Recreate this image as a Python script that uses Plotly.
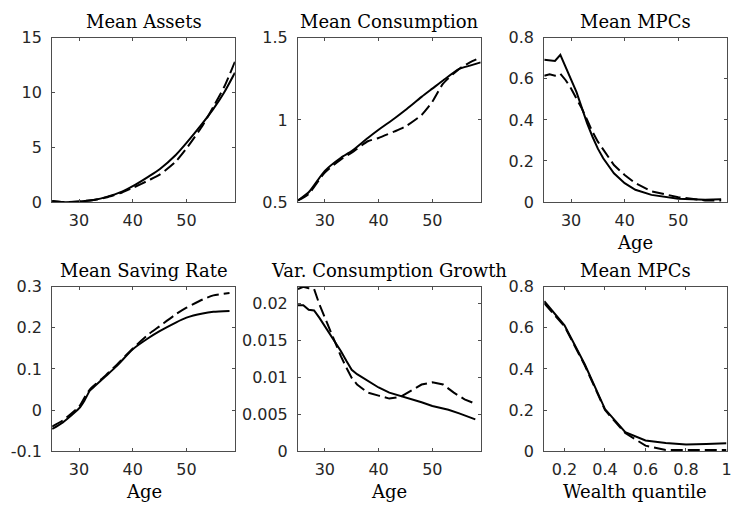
import plotly.graph_objects as go

# ---------------- data ----------------
age_assets = [25, 27, 30, 33, 35, 38, 40, 43, 45, 48, 50, 53, 55, 57, 59]
assets_solid = [0.1, 0.0, 0.05, 0.22, 0.45, 0.95, 1.45, 2.35, 3.0, 4.3, 5.4, 7.2, 8.5, 10.0, 11.8]
assets_dash = [0.1, 0.0, 0.05, 0.22, 0.42, 0.88, 1.3, 2.0, 2.5, 3.7, 4.9, 7.0, 8.7, 10.5, 12.8]

age_cons = [25, 27, 30, 33, 35, 38, 40, 43, 45, 48, 50, 52, 55, 57, 59]
cons_solid = [0.51, 0.56, 0.69, 0.77, 0.81, 0.89, 0.94, 1.01, 1.06, 1.14, 1.19, 1.24, 1.31, 1.33, 1.35]
cons_dash = [0.51, 0.55, 0.68, 0.76, 0.80, 0.87, 0.89, 0.93, 0.96, 1.03, 1.11, 1.22, 1.31, 1.35, 1.38]

age_mpc = [25, 26, 27, 28, 29, 30, 31, 32, 33, 34, 35, 36, 38, 40, 42, 45, 50, 55, 58]
mpc_age_solid = [0.693, 0.69, 0.687, 0.717, 0.657, 0.60, 0.536, 0.46, 0.383, 0.318, 0.26, 0.213,
                 0.14, 0.092, 0.06, 0.035, 0.016, 0.011, 0.014]
mpc_age_dash = [0.615, 0.622, 0.615, 0.625, 0.593, 0.553, 0.504, 0.456, 0.40, 0.342, 0.294, 0.254,
                0.18, 0.132, 0.092, 0.052, 0.024, 0.008, 0.008]

age_save = [25, 27, 30, 31, 32, 33, 35, 37, 40, 43, 45, 48, 50, 53, 55, 58]
save_solid = [-0.046, -0.03, 0.004, 0.023, 0.047, 0.059, 0.083, 0.107, 0.148, 0.176, 0.192,
              0.213, 0.225, 0.235, 0.239, 0.241]
save_dash = [-0.04, -0.025, 0.008, 0.03, 0.05, 0.062, 0.085, 0.11, 0.15, 0.185, 0.204,
             0.233, 0.249, 0.269, 0.279, 0.285]

age_var_solid = [25, 26, 27, 28, 29, 30, 31, 32, 33, 34, 35, 36, 38, 40, 42, 45, 48, 50, 53, 55, 58]
var_solid = [0.0197, 0.0197, 0.0191, 0.019, 0.018, 0.0169, 0.0157, 0.0146, 0.0135, 0.0122, 0.011,
             0.0104, 0.0095, 0.0086, 0.0079, 0.0073, 0.0066, 0.0061, 0.0056, 0.0051, 0.0043]
age_var_dash = [25, 26, 27, 28, 29, 30, 31, 32, 33, 34, 35, 36, 38, 40, 42, 44, 46, 48, 50, 52, 54, 56, 58]
var_dash = [0.0219, 0.0222, 0.022, 0.0219, 0.0198, 0.018, 0.0164, 0.0146, 0.0128, 0.0113, 0.0099,
            0.009, 0.0079, 0.0075, 0.0071, 0.0073, 0.0081, 0.009, 0.0093, 0.009, 0.0079, 0.007, 0.0064]

wealth_q = [0.1, 0.2, 0.3, 0.4, 0.5, 0.6, 0.7, 0.8, 0.9, 1.0]
mpc_w_solid = [0.73, 0.612, 0.423, 0.205, 0.092, 0.052, 0.04, 0.032, 0.035, 0.039]
mpc_w_dash = [0.72, 0.608, 0.418, 0.2, 0.088, 0.027, 0.006, 0.005, 0.005, 0.006]

titles = ["Mean Assets", "Mean Consumption", "Mean MPCs",
          "Mean Saving Rate", "Var. Consumption Growth", "Mean MPCs"]

age_ticks = [30, 40, 50]
age_ticktext = ["30", "40", "50"]
q_ticks = [0.2, 0.4, 0.6, 0.8, 1.0]
q_ticktext = ["0.2", "0.4", "0.6", "0.8", "1"]

y_ticks = [
    ([0, 5, 10, 15], ["0", "5", "10", "15"]),
    ([0.5, 1, 1.5], ["0.5", "1", "1.5"]),
    ([0, 0.2, 0.4, 0.6, 0.8], ["0", "0.2", "0.4", "0.6", "0.8"]),
    ([-0.1, 0, 0.1, 0.2, 0.3], ["-0.1", "0", "0.1", "0.2", "0.3"]),
    ([0, 0.005, 0.01, 0.015, 0.02], ["0", "0.005", "0.01", "0.015", "0.02"]),
    ([0, 0.2, 0.4, 0.6, 0.8], ["0", "0.2", "0.4", "0.6", "0.8"]),
]
y_ranges = [[0, 15], [0.5, 1.5], [0, 0.8], [-0.1, 0.3], [0, 0.0222], [0, 0.8]]
x_ranges = [[25, 59]] * 5 + [[0.1, 1.0001]]
smooth = [True, True, False, True, False, False]

panels = [
    (age_assets, assets_solid, age_assets, assets_dash),
    (age_cons, cons_solid, age_cons, cons_dash),
    (age_mpc, mpc_age_solid, age_mpc, mpc_age_dash),
    (age_save, save_solid, age_save, save_dash),
    (age_var_solid, var_solid, age_var_dash, var_dash),
    (wealth_q, mpc_w_solid, wealth_q, mpc_w_dash),
]
xlabels = {2: "Age", 3: "Age", 4: "Age", 5: "Wealth quantile"}

# ---------------- layout geometry ----------------
W, H = 732, 506
# target on-screen pixel positions; compensated for the viewer's vertical offset/scale
Y_OFF, Y_SC = 8.2, 0.966
col_px = [(52.5, 236.5), (300, 484), (548, 731.5)]
row_px = [(37, 202), (287, 452)]


def fy(y):
    return 1 - ((y - Y_OFF) / Y_SC) / H


fig = go.Figure()
layout = dict(width=W, height=H, margin=dict(l=0, r=0, t=0, b=0),
              paper_bgcolor="white", plot_bgcolor="white", showlegend=False)
annotations = []

tick_font = dict(family="DejaVu Sans", size=16, color="#262626")
label_font = dict(family="DejaVu Serif", size=18, color="#000000")
axis_col = "#4d4d4d"

for i, (xs, ys, xd, yd) in enumerate(panels):
    r, c = divmod(i, 3)
    n = "" if i == 0 else str(i + 1)
    xdom = [col_px[c][0] / W, col_px[c][1] / W]
    ydom = [fy(row_px[r][1]), fy(row_px[r][0])]
    xa, ya = "x" + n, "y" + n
    shape = "spline" if smooth[i] else "linear"
    fig.add_trace(go.Scatter(x=xs, y=ys, mode="lines", xaxis=xa, yaxis=ya,
                             line=dict(color="black", width=2, shape=shape, smoothing=0.6)))
    fig.add_trace(go.Scatter(x=xd, y=yd, mode="lines", xaxis=xa, yaxis=ya,
                             line=dict(color="black", width=2, dash="12px,5px",
                                       shape=shape, smoothing=0.6)))
    if i < 5:
        xt, xtt = age_ticks, age_ticktext
    else:
        xt, xtt = q_ticks, q_ticktext
    layout["xaxis" + n] = dict(domain=xdom, anchor=ya, range=x_ranges[i],
                               tickmode="array", tickvals=xt, ticktext=xtt,
                               ticks="inside", ticklen=3, tickcolor=axis_col,
                               showline=True, linecolor=axis_col, linewidth=1,
                               mirror="ticks", showgrid=False, zeroline=False,
                               tickfont=tick_font, ticklabelstandoff=4,
                               ticklabeloverflow="allow")
    layout["yaxis" + n] = dict(domain=ydom, anchor=xa, range=y_ranges[i],
                               tickmode="array", tickvals=y_ticks[i][0], ticktext=y_ticks[i][1],
                               ticks="inside", ticklen=3, tickcolor=axis_col,
                               showline=True, linecolor=axis_col, linewidth=1,
                               mirror="ticks", showgrid=False, zeroline=False,
                               tickfont=tick_font, ticklabelstandoff=6)
    annotations.append(dict(text=titles[i], x=(xdom[0] + xdom[1]) / 2, y=ydom[1],
                            xref="paper", yref="paper", xanchor="center", yanchor="bottom",
                            yshift=4, showarrow=False, font=label_font))
    if i in xlabels:
        annotations.append(dict(text=xlabels[i], x=(xdom[0] + xdom[1]) / 2, y=ydom[0],
                                xref="paper", yref="paper", xanchor="center", yanchor="top",
                                yshift=-28, showarrow=False, font=label_font))

layout["annotations"] = annotations
fig.update_layout(**layout)
fig.write_html("out.html")
